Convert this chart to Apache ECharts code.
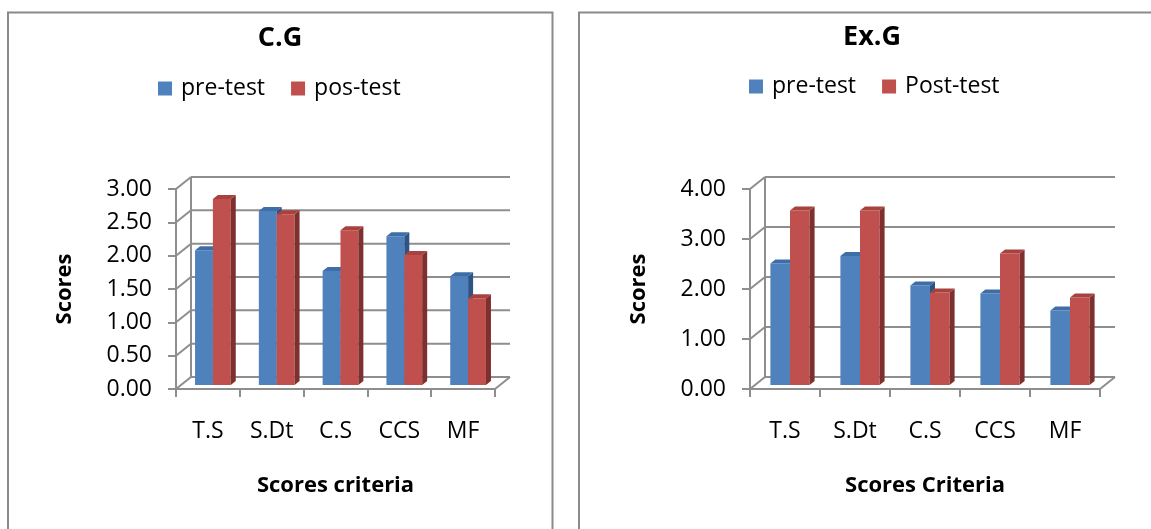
<!DOCTYPE html>
<html>
<head>
<meta charset="utf-8">
<script src="https://cdn.jsdelivr.net/npm/echarts@6/dist/echarts.min.js"></script>
<style>
  html, body { margin: 0; padding: 0; background: #fff; }
  #chart { width: 1151px; height: 529px; }
</style>
</head>
<body>
<div id="chart"></div>
<script>
// Scores per criterion, control group (C.G) and experimental group (Ex.G)
const categories = ['T.S', 'S.Dt', 'C.S', 'CCS', 'MF'];
const cgPre  = [2.02, 2.61, 1.71, 2.23, 1.63];
const cgPost = [2.79, 2.56, 2.32, 1.95, 1.30];
const egPre  = [2.43, 2.58, 1.99, 1.83, 1.49];
const egPost = [3.49, 3.49, 1.85, 2.63, 1.75];
const cgTicks = [0, 0.5, 1, 1.5, 2, 2.5, 3];
const egTicks = [0, 1, 2, 3, 4];

const FONT = 'Open Sans';
const LINE = '#8e8e8e';
// oblique offset from the front plane to the back wall
const DEPTH_X = 15, DEPTH_Y = -12;

const BLUE = { front: '#4F81BD', top: '#3E6DA8', side: '#2E5486' };
const RED  = { front: '#C0504D', top: '#A8423F', side: '#7E302E' };

// back-wall gridline + side-wall connector for one tick value
function renderFrame(params, api) {
  const cs = params.coordSys;
  const L = cs.x, R = cs.x + cs.width;
  const y = api.coord([0, api.value(1)])[1];
  const style = { stroke: LINE, lineWidth: 2, fill: null };
  const children = [
    { type: 'line', shape: { x1: L + DEPTH_X, y1: y + DEPTH_Y, x2: R + DEPTH_X, y2: y + DEPTH_Y }, style },
    { type: 'line', shape: { x1: L, y1: y, x2: L + DEPTH_X, y2: y + DEPTH_Y }, style }
  ];
  if (params.dataIndex === 0) {
    // floor's right edge and the back wall's left edge
    children.push({ type: 'line', shape: { x1: R, y1: y, x2: R + DEPTH_X, y2: y + DEPTH_Y }, style });
    children.push({ type: 'line', shape: { x1: L + DEPTH_X, y1: y + DEPTH_Y, x2: L + DEPTH_X, y2: cs.y + DEPTH_Y }, style });
  }
  return { type: 'group', children };
}

// a column with front, side and top faces; slot 0 = left of pair, 1 = right
function barRenderer(slot, c) {
  return function (params, api) {
    const i = api.value(0), v = api.value(1);
    const base = api.coord([i, 0]);
    const top = api.coord([i, v]);
    const band = api.size([1, 0])[0];
    const w = band * 0.28;
    const ox = DEPTH_X / 3, oy = DEPTH_Y / 3;
    const x0 = base[0] + ox + (slot - 1) * w, x1 = x0 + w;
    const yb = base[1] + oy, yt = top[1] + oy;
    return {
      type: 'group',
      children: [
        { type: 'rect', shape: { x: x0, y: yt, width: w, height: yb - yt }, style: { fill: c.front } },
        { type: 'polygon', shape: { points: [[x1, yt], [x1 + ox, yt + oy], [x1 + ox, yb + oy], [x1, yb]] }, style: { fill: c.side } },
        { type: 'polygon', shape: { points: [[x0, yt], [x0 + ox, yt + oy], [x1 + ox, yt + oy], [x1, yt]] }, style: { fill: c.top } }
      ]
    };
  };
}

const pairs = (arr) => arr.map((v, i) => [i, v]);
const tickRows = (arr) => arr.map((t) => [0, t]);

function xAxis(gridIndex, name) {
  return {
    gridIndex, type: 'category', data: categories,
    axisLine: { show: true, lineStyle: { color: LINE, width: 2 } },
    axisTick: { show: true, length: 8, lineStyle: { color: LINE, width: 2 } },
    axisLabel: { fontSize: 23, color: '#000', fontFamily: FONT, margin: 31 },
    splitLine: { show: false },
    name, nameLocation: 'middle', nameGap: 86,
    nameTextStyle: { fontSize: 22, fontWeight: 'bold', color: '#000', fontFamily: FONT }
  };
}
function yAxis(gridIndex, max, interval) {
  return {
    gridIndex, type: 'value', min: 0, max, interval,
    axisLine: { show: true, lineStyle: { color: LINE, width: 2 } },
    axisTick: { show: true, length: 8, lineStyle: { color: LINE, width: 2 } },
    axisLabel: { fontSize: 23, color: '#000', fontFamily: FONT, margin: 24, formatter: (v) => v.toFixed(2) },
    splitLine: { show: false },
    name: 'Scores', nameLocation: 'middle', nameGap: 100,
    nameTextStyle: { fontSize: 22, fontWeight: 'bold', color: '#000', fontFamily: FONT }
  };
}
function legend(left, top, names) {
  return {
    left, top, data: names, icon: 'rect', itemWidth: 14, itemHeight: 14, itemGap: 26,
    textStyle: { fontSize: 23, color: '#000', fontFamily: FONT, padding: [0, 0, 0, 4] }
  };
}

const chart = echarts.init(document.getElementById('chart'), null, { renderer: 'canvas' });
chart.setOption({
  animation: false,
  backgroundColor: '#fff',
  grid: [
    { left: 176, top: 189, width: 319, height: 200, outerBoundsMode: 'none' },
    { left: 750, top: 189, width: 350, height: 200, outerBoundsMode: 'none' }
  ],
  xAxis: [xAxis(0, 'Scores criteria'), xAxis(1, 'Scores Criteria')],
  yAxis: [yAxis(0, 3, 0.5), yAxis(1, 4, 1)],
  legend: [
    legend(153, 72, ['pre-test', 'pos-test']),
    legend(744, 70, ['pre-test', 'Post-test'])
  ],
  graphic: [
    { type: 'rect', silent: true, z: -10, shape: { x: 8, y: 12.5, width: 544.5, height: 540 }, style: { fill: 'transparent', stroke: '#8a8a8a', lineWidth: 2 } },
    { type: 'rect', silent: true, z: -10, shape: { x: 579, y: 12.5, width: 600, height: 540 }, style: { fill: 'transparent', stroke: '#8a8a8a', lineWidth: 2 } },
    { type: 'text', x: 280, y: 38, style: { text: 'C.G', fill: '#000', fontSize: 27, fontWeight: 'bold', fontFamily: FONT, align: 'center', verticalAlign: 'middle' } },
    { type: 'text', x: 872, y: 37, style: { text: 'Ex.G', fill: '#000', fontSize: 27, fontWeight: 'bold', fontFamily: FONT, align: 'center', verticalAlign: 'middle' } }
  ],
  series: [
    { type: 'custom', xAxisIndex: 0, yAxisIndex: 0, z: 1, silent: true, data: tickRows(cgTicks), encode: { x: 0, y: 1 }, renderItem: renderFrame },
    { type: 'custom', name: 'pre-test', xAxisIndex: 0, yAxisIndex: 0, z: 2, itemStyle: { color: BLUE.front }, data: pairs(cgPre), encode: { x: 0, y: 1 }, renderItem: barRenderer(0, BLUE) },
    { type: 'custom', name: 'pos-test', xAxisIndex: 0, yAxisIndex: 0, z: 3, itemStyle: { color: RED.front }, data: pairs(cgPost), encode: { x: 0, y: 1 }, renderItem: barRenderer(1, RED) },
    { type: 'custom', xAxisIndex: 1, yAxisIndex: 1, z: 1, silent: true, data: tickRows(egTicks), encode: { x: 0, y: 1 }, renderItem: renderFrame },
    { type: 'custom', name: 'pre-test', xAxisIndex: 1, yAxisIndex: 1, z: 2, itemStyle: { color: BLUE.front }, data: pairs(egPre), encode: { x: 0, y: 1 }, renderItem: barRenderer(0, BLUE) },
    { type: 'custom', name: 'Post-test', xAxisIndex: 1, yAxisIndex: 1, z: 3, itemStyle: { color: RED.front }, data: pairs(egPost), encode: { x: 0, y: 1 }, renderItem: barRenderer(1, RED) }
  ]
});
</script>
</body>
</html>
